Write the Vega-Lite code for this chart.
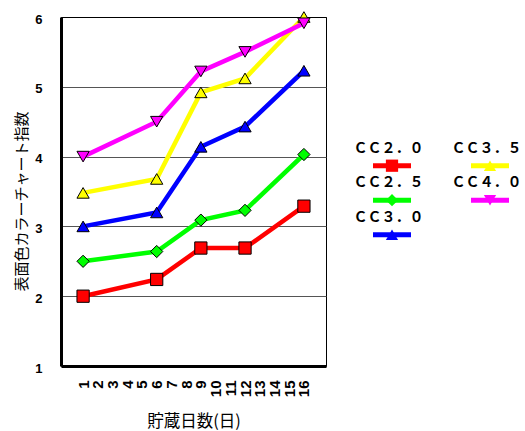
{
  "$schema": "https://vega.github.io/schema/vega-lite/v6.json",
  "width": 265,
  "height": 349,
  "autosize": {"type": "none"},
  "padding": {"left": 61, "top": 17, "right": 199, "bottom": 65},
  "background": "white",
  "config": {
    "view": {"stroke": "black", "strokeWidth": 1},
    "style": {"guide-label": {"lineHeight": 34}}
  },
  "data": {
    "values": [
      {"series": "ＣＣ２．０", "day": 1, "value": 2.0},
      {"series": "ＣＣ２．０", "day": 6, "value": 2.24},
      {"series": "ＣＣ２．０", "day": 9, "value": 2.69},
      {"series": "ＣＣ２．０", "day": 12, "value": 2.69},
      {"series": "ＣＣ２．０", "day": 16, "value": 3.29},
      {"series": "ＣＣ２．５", "day": 1, "value": 2.5},
      {"series": "ＣＣ２．５", "day": 6, "value": 2.64},
      {"series": "ＣＣ２．５", "day": 9, "value": 3.09},
      {"series": "ＣＣ２．５", "day": 12, "value": 3.23},
      {"series": "ＣＣ２．５", "day": 16, "value": 4.03},
      {"series": "ＣＣ３．０", "day": 1, "value": 3.0},
      {"series": "ＣＣ３．０", "day": 6, "value": 3.2},
      {"series": "ＣＣ３．０", "day": 9, "value": 4.14},
      {"series": "ＣＣ３．０", "day": 12, "value": 4.43},
      {"series": "ＣＣ３．０", "day": 16, "value": 5.23},
      {"series": "ＣＣ３．５", "day": 1, "value": 3.48},
      {"series": "ＣＣ３．５", "day": 6, "value": 3.68},
      {"series": "ＣＣ３．５", "day": 9, "value": 4.92},
      {"series": "ＣＣ３．５", "day": 12, "value": 5.12},
      {"series": "ＣＣ３．５", "day": 16, "value": 6.0},
      {"series": "ＣＣ４．０", "day": 1, "value": 4.0},
      {"series": "ＣＣ４．０", "day": 6, "value": 4.5},
      {"series": "ＣＣ４．０", "day": 9, "value": 5.22},
      {"series": "ＣＣ４．０", "day": 12, "value": 5.5},
      {"series": "ＣＣ４．０", "day": 16, "value": 5.91}
    ]
  },
  "encoding": {
    "x": {
      "field": "day",
      "type": "quantitative",
      "scale": {"domain": [-0.5, 17.5], "nice": false, "zero": false},
      "axis": {
        "values": [1, 2, 3, 4, 5, 6, 7, 8, 9, 10, 11, 12, 13, 14, 15, 16],
        "labelAngle": -90,
        "labelFont": "Liberation Sans",
        "labelFontWeight": "bold",
        "labelFontSize": 15,
        "labelColor": "black",
        "labelPadding": 14,
        "labelOverlap": false,
        "labelFlush": false,
        "ticks": false,
        "grid": false,
        "domainColor": "black",
        "domainWidth": 3,
        "title": "貯蔵日数(日)",
        "titleFont": "Noto Sans CJK JP",
        "titleFontSize": 16.5,
        "titleFontWeight": "normal",
        "titleColor": "black",
        "titleY": 55,
        "titleBaseline": "middle"
      }
    },
    "y": {
      "field": "value",
      "type": "quantitative",
      "scale": {"domain": [1, 6], "nice": false, "zero": false},
      "axis": {
        "values": [1, 2, 3, 4, 5, 6],
        "labelFont": "Liberation Sans",
        "labelFontWeight": "bold",
        "labelFontSize": 13,
        "labelColor": "black",
        "labelPadding": 19,
        "labelOffset": 2,
        "labelFlush": false,
        "ticks": false,
        "grid": true,
        "gridColor": {"condition": {"test": "datum.value === 6", "value": "black"}, "value": "#555555"},
        "gridWidth": 1,
        "domainColor": "black",
        "domainWidth": 3,
        "title": "表面色カラーチャート指数",
        "titleFont": "Noto Sans CJK JP",
        "titleFontSize": 15,
        "titleFontWeight": "normal",
        "titleColor": "black",
        "titleX": -40,
        "titleY": 184,
        "titleBaseline": "middle"
      }
    }
  },
  "layer": [
    {
      "mark": {"type": "line", "strokeWidth": 4.5},
      "encoding": {
        "color": {
          "field": "series",
          "type": "nominal",
          "scale": {
            "domain": ["ＣＣ２．０", "ＣＣ２．５", "ＣＣ３．０", "ＣＣ３．５", "ＣＣ４．０"],
            "range": ["#ff0000", "#00ff00", "#0000ff", "#ffff00", "#ff00ff"]
          },
          "legend": {
            "title": null,
            "orient": "none",
            "legendX": 292.5,
            "legendY": 141.7,
            "columns": 2,
            "columnPadding": 28,
            "rowPadding": -13.5,
            "padding": 0,
            "symbolType": "M-4.2222,0H4.2222",
            "symbolSize": 81,
            "symbolStrokeWidth": 5,
            "symbolOffset": 31.5,
            "labelOffset": -45.5,
            "labelFont": "Noto Sans CJK JP",
            "labelFontSize": 14,
            "labelFontWeight": "bold",
            "labelColor": "black",
            "labelBaseline": "line-bottom",
            "labelAlign": "left",
            "labelExpr": "[datum.label, '']"
          }
        }
      }
    },
    {
      "mark": {"type": "point", "filled": true, "size": 150, "stroke": "black", "strokeWidth": 1, "opacity": 1},
      "encoding": {
        "shape": {
          "field": "series",
          "type": "nominal",
          "scale": {"range": ["square", "diamond", "triangle-up", "triangle-up", "triangle-down"]},
          "legend": {
            "title": null,
            "orient": "none",
            "legendX": 292.5,
            "legendY": 141.7,
            "columns": 2,
            "columnPadding": 28,
            "rowPadding": -13.5,
            "padding": 0,
            "symbolSize": 150,
            "symbolStrokeWidth": 1,
            "symbolStrokeColor": "black",
            "symbolOffset": 31.5,
            "labelOffset": -45.5,
            "labelOpacity": 0,
            "labelFont": "Noto Sans CJK JP",
            "labelFontSize": 14,
            "labelFontWeight": "bold",
            "labelColor": "black",
            "labelBaseline": "line-bottom",
            "labelAlign": "left",
            "labelExpr": "[datum.label, '']"
          }
        },
        "fill": {
          "field": "series",
          "type": "nominal",
          "scale": {"range": ["#ff0000", "#00ff00", "#0000ff", "#ffff00", "#ff00ff"]},
          "legend": {
            "title": null,
            "orient": "none",
            "legendX": 292.5,
            "legendY": 141.7,
            "columns": 2,
            "columnPadding": 28,
            "rowPadding": -13.5,
            "padding": 0,
            "symbolSize": 150,
            "symbolStrokeWidth": 1,
            "symbolStrokeColor": "black",
            "symbolOffset": 31.5,
            "labelOffset": -45.5,
            "labelOpacity": 0,
            "labelFont": "Noto Sans CJK JP",
            "labelFontSize": 14,
            "labelFontWeight": "bold",
            "labelColor": "black",
            "labelBaseline": "line-bottom",
            "labelAlign": "left",
            "labelExpr": "[datum.label, '']"
          }
        }
      }
    }
  ]
}
